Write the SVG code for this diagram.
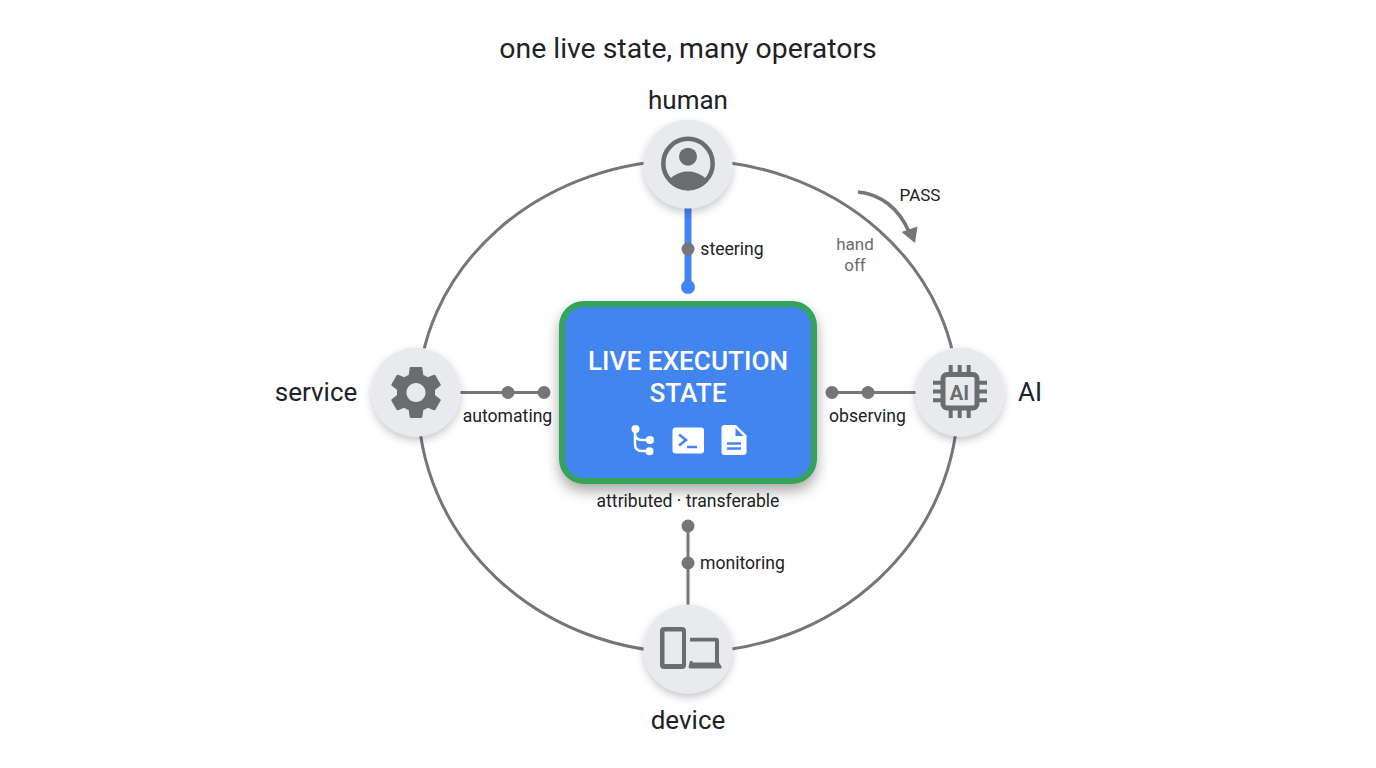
<svg xmlns="http://www.w3.org/2000/svg" width="1376" height="768" viewBox="0 0 1376 768">
<defs>
<filter id="sh" x="-30%" y="-30%" width="160%" height="170%"><feDropShadow dx="0" dy="4" stdDeviation="4" flood-color="#000" flood-opacity=".22"/></filter>
<filter id="shc" x="-15%" y="-15%" width="130%" height="135%"><feDropShadow dx="0" dy="7" stdDeviation="7" flood-color="#000" flood-opacity=".34"/></filter>
</defs>
<style>
text{font-family:Roboto,"Liberation Sans",sans-serif;fill:#202124;text-anchor:middle}
.big{font-size:26px}.lbl{font-size:17.600px}
.disc{fill:#e8eaed;filter:url(#sh)}
.ico{fill:#6a6c70}
.w{stroke:#757679;stroke-width:3;fill:none}
.dot{fill:#757679}
</style>
<rect width="1376" height="768" fill="#fff"/>
<text x="688" y="58" style="font-size:28.400px">one live state, many operators</text>
<g id="connectors">
<path d="M418 400A270 240 0 0 1 958 400A270 252.500 0 0 1 418 400Z" class="w"/>
<path d="M688 208V287" stroke="#4285f4" stroke-width="7" fill="none"/>
<circle cx="688" cy="287" r="7" fill="#4285f4"/>
<circle cx="688" cy="249" r="6.500" class="dot"/>
<path d="M460 392.500H544" class="w"/>
<circle cx="508" cy="392.500" r="6.500" class="dot"/><circle cx="544" cy="392.500" r="6.500" class="dot"/>
<path d="M832 392.500H916" class="w"/>
<circle cx="832" cy="392.500" r="6.500" class="dot"/><circle cx="868" cy="392.500" r="6.500" class="dot"/>
<path d="M688 526V605" class="w"/>
<circle cx="688" cy="526" r="6.500" class="dot"/><circle cx="688" cy="563" r="6.500" class="dot"/>
<path d="M858 192C880 194 899 208 909 232" stroke="#757679" stroke-width="3.500" fill="none"/>
<polygon points="901.500,232 917.500,226.500 915,243" fill="#757679"/>
<text x="920" y="200.500" style="font-size:17px">PASS</text>
<text x="855" y="250" style="font-size:17px;fill:#6a6c70">hand</text>
<text x="855" y="271" style="font-size:17px;fill:#6a6c70">off</text>
<text x="732" y="255" class="lbl">steering</text>
<text x="507.500" y="422" class="lbl">automating</text>
<text x="867.500" y="422" class="lbl">observing</text>
<text x="742.500" y="569" class="lbl">monitoring</text>
</g>
<g id="state">
<rect x="562" y="304" width="252" height="177" rx="22" fill="#4285ee" stroke="#34a35a" stroke-width="6" style="filter:url(#shc)"/>
<text x="688" y="370" style="font-size:26.200px;fill:#fff;font-weight:500">LIVE EXECUTION</text>
<text x="688" y="402" style="font-size:26.200px;fill:#fff;font-weight:500">STATE</text>
<g fill="none" stroke="#fff" stroke-width="2.500"><path d="M635 429V444Q635 451 642 451H649M635 433Q635 440 642 440H650"/></g>
<g fill="#fff"><circle cx="635.500" cy="429" r="4"/><circle cx="650" cy="440" r="4"/><circle cx="649.500" cy="451.300" r="4"/></g>
<rect x="672.500" y="427.500" width="31.500" height="26" rx="3" fill="#fff"/>
<path d="M679 434.500L686 440L679 445.500" fill="none" stroke="#4285ee" stroke-width="2.500"/>
<path d="M687 447H697" stroke="#4285ee" stroke-width="2.500"/>
<path d="M724.500 425H736L746.500 435.500V452A3 3 0 0 1 743.500 455H724.500A3 3 0 0 1 721.500 452V428A3 3 0 0 1 724.500 425Z" fill="#fff"/>
<path d="M735.500 428V436H743.500Z" fill="#4285ee"/>
<path d="M727 443.500H741M727 448.500H741" stroke="#4285ee" stroke-width="2.500"/>
</g>
<text x="688" y="507" class="lbl">attributed · transferable</text>
<g id="human">
<circle cx="688" cy="164" r="44.500" class="disc"/>
<circle cx="688" cy="163.500" r="24.700" fill="none" stroke="#6a6c70" stroke-width="4.500"/>
<circle cx="688" cy="156.700" r="9" class="ico"/>
<path d="M668 181C674 174 681 171.500 688 171.500C695 171.500 702 174 708 181A26 26 0 0 1 668 181Z" class="ico"/>
<text x="688" y="109" class="big">human</text>
</g>
<g id="service">
<circle cx="416" cy="392" r="44.500" class="disc"/>
<path transform="translate(416 392.500) scale(2.650) translate(-12 -12)" class="ico" d="M19.140 12.940c.04-.3.060-.61.060-.94 0-.32-.02-.64-.07-.94l2.030-1.580c.18-.14.230-.41.120-.61l-1.920-3.320c-.12-.22-.37-.29-.59-.22l-2.390.96c-.5-.38-1.030-.7-1.620-.94l-.36-2.540c-.04-.24-.24-.41-.48-.41h-3.840c-.24 0-.43.17-.47.41l-.36 2.540c-.59.24-1.130.57-1.620.94l-2.390-.96c-.22-.08-.47 0-.59.22L2.740 8.870c-.12.21-.08.47.12.61l2.030 1.580c-.05.3-.09.63-.09.94s.02.64.07.94l-2.030 1.580c-.18.14-.23.41-.12.61l1.920 3.320c.12.22.37.29.59.22l2.390-.96c.5.38 1.030.7 1.620.94l.36 2.540c.05.24.24.41.48.41h3.840c.24 0 .44-.17.47-.41l.36-2.540c.59-.24 1.130-.56 1.620-.94l2.390.96c.22.08.47 0 .59-.22l1.920-3.320c.12-.22.070-.47-.12-.61l-2.010-1.580zM12 15.600c-1.980 0-3.600-1.620-3.600-3.600s1.620-3.600 3.600-3.600 3.600 1.620 3.600 3.600-1.620 3.600-3.600 3.600z"/>
<text x="316" y="401" class="big">service</text>
</g>
<g id="ai">
<circle cx="960" cy="392" r="44.500" class="disc"/>
<rect x="943" y="374.500" width="34" height="33.500" rx="4" fill="none" stroke="#6a6c70" stroke-width="5"/>
<path d="M950.700 365V373M959.700 365V373M968.700 365V373M950.700 409V418M959.700 409V418M968.700 409V418M933 382.700H942M933 391.500H942M933 400.300H942M978 382.700H987M978 391.500H987M978 400.300H987" stroke="#6a6c70" stroke-width="4" fill="none"/>
<text x="959.500" y="399.500" style="font-size:20px;font-weight:700;fill:#6a6c70">AI</text>
<text x="1030" y="401" class="big">AI</text>
</g>
<g id="device">
<circle cx="688" cy="649" r="44.500" class="disc"/>
<path fill-rule="evenodd" class="ico" d="M664 627H682A4 4 0 0 1 686 631V665A4 4 0 0 1 682 669H664A4 4 0 0 1 660 665V631A4 4 0 0 1 664 627ZM664.500 631.500V664H682V631.500Z"/>
<path d="M690 637.800H716A3 3 0 0 1 719 640.800V662.500L721.500 666.500A1.500 1.500 0 0 1 720 668.500H689.500L688.500 667L690 661H692.500V662.500H715V641.500H690Z" class="ico"/>
<text x="688" y="729" class="big">device</text>
</g>
</svg>
